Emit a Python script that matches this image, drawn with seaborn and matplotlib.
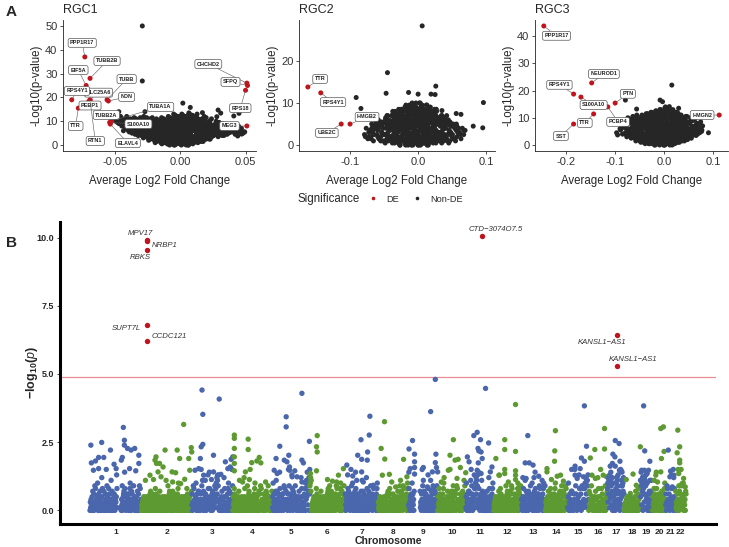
import matplotlib
matplotlib.use("Agg")
import numpy as np
import pandas as pd
import matplotlib.pyplot as plt
from matplotlib.lines import Line2D
import seaborn as sns

sns.set_theme(style="ticks")
plt.rcParams["font.family"] = ["Liberation Sans", "DejaVu Sans"]
plt.rcParams["mathtext.fontset"] = "custom"
plt.rcParams["mathtext.rm"] = "Liberation Sans"
plt.rcParams["mathtext.it"] = "Liberation Sans:italic"
plt.rcParams["mathtext.bf"] = "Liberation Sans:bold"

RED = "#c0141c"
DARK = "#262626"
BLUE = "#4a66ac"
GREEN = "#5e9a32"

# ---------------------------------------------------------------
# Panel A data (volcano plots)
# dense cloud: one string per fold-change bin, each char is one gene,
# its -log10(p) in half units written base 36
# ---------------------------------------------------------------
rgc1_bins = (-0.050, 0.005)
rgc1_cloud = [
    "kmio", "gkcmeioh", "dkbhmfjaelgn", "b9hmdjfa8kcgine", "9ejbmg6ock8hdfan7l",
    "7dk4hb9mf5jc8gn6elai", "5hc2k8fm3a6jd4gb9le7i", "3g9n1dk5b7hm2fa8jc4e6li",
    "6c1jo3f9l0hb5md2ka7g4ei8n", "2h7c0mp4a9f1kd6jo3b8ln5ge", "9d3k0gq5ap1h7m2eb6ok4jc8nf",
    "4a1m8f0jr6cq2hb9o3ld5gp7ke", "7e2kc5ho3ja9nq4fm6bl8dg", "8ci3g5mb7ek4ho9fa6jn",
    "a6ge9jc5kb8hm7fd", "c8hae9kbgd7fj", "d9gbiae8hcf", "c9fadhbge", "bf9dag", "ceab",
]
rgc1_core = [
    "mk", "hjfl", "cgielf", "adfhjlbe", "8acegikm9b", "6adgjl8bfhk7", "4bei9dgk5cfh6j",
    "2cfjm4ehk7bdg3i", "1dgk3fjn5hb8cm2e", "0aek2gm5ci8fo3jb1", "1cgm3ip6ek9ao4hb0l",
    "2egp0ik5cn8bj3mf1h", "3fjn5ch8ma2ek6g", "4gk7ci3em9fb5", "6ai8ek5cg9b", "8dh9fbjce",
    "9eg8bhdc", "adfbc", "cae", "db",
]
rgc1_other_fc = [-0.029, -0.029, -0.051, -0.047, -0.045, 0.0077, 0.029, 0.045, 0.044, 0.028,
                 0.002, 0.017, 0.031, -0.027, -0.005, 0.041, 0.047, 0.044, -0.048, -0.052]
rgc1_other_p = [50, 26.9, 12, 14, 11, 15.8, 14.7, 13.3, 3.8, 11.9,
                17.6, 13.6, 13.4, 14, 13, 12.2, 4.6, 8, 9.5, 10.5]
rgc1_genes = ["PPP1R17", "TUBB2B", "EIF5A", "SLC25A6", "RPS4Y1", "TUBB", "NDN", "PEBP1", "TTR",
              "TUBB2A", "RTN1", "TUBA1A", "S100A10", "ELAVL4", "CHCHD2", "SFPQ", "RPS18", "MEG3"]
rgc1_de_fc = [-0.073, -0.069, -0.072, -0.069, -0.083, -0.056, -0.055, -0.070, -0.078,
              -0.053, -0.069, -0.0525, -0.054, -0.0535, 0.051, 0.0515, 0.050, 0.051]
rgc1_de_p = [37, 28, 25, 19, 19, 19, 18.5, 18.3, 15.5, 9.7, 18.8, 10.2, 9.5, 8.8, 26, 25, 23, 8]

rgc2_bins = (-0.08, 0.01)
rgc2_cloud = [
    "5837", "4a6298b5", "7c39a4b6285", "5b1d8a3e62c97b4", "4e9b1g7c3f6a2d859b4e",
    "6c1h9e3a0g7d4b2f58c3g7a9", "3i8d0j5b1g7e2ha6c94fd2b8i5", "9f2k6c0h4a1j8e3b7gd5ic2e9h5a0",
    "5h0d9k3b7f1i4c8a2je6gd1a7h3f9", "7b2g9e4j0c6h3a1f8d5ib4g8e2", "3d8a1f6c9h4b2e7g5a6d3c",
    "6a2d9c4e1b7385a5c9", "8c3a5b17296a4", "5a3927468", "63857",
]
rgc2_core = [
    "46", "3759a", "48b26a5", "2c5e8a4b", "3a8e5c1g6d2b", "2f7b0d4h9e3a6c", "1e6i3b8g0d5j2h4c",
    "0h5c9j2e7a4k1g6d3", "2g7a4k0d8i3f6b1h5c", "1f6j3c8b0h5e2i7d4", "2c7g4a9e1h5d3b",
    "3c6a9e4b2d8", "4a2c6b59", "38a6", "57",
]
rgc2_other_fc = [0.006, -0.045, -0.047, -0.091, -0.084, 0.026, -0.014, 0.0, 0.019, 0.025, 0.096,
                 0.095, 0.081, 0.063, 0.056, 0.042, 0.035, -0.068, -0.072, 0.057, 0.048]
rgc2_other_p = [28.3, 17.2, 12.3, 11.3, 8.7, 14, 12.5, 12.1, 12.1, 12.0, 10.1,
                4.1, 4.5, 7.3, 7.5, 7.0, 8.2, 4.0, 2.0, 4.5, 4.8]
rgc2_genes = ["TTR", "RPS4Y1", "HMGB2", "UBE2C"]
rgc2_de_fc = [-0.162, -0.143, -0.100, -0.113]
rgc2_de_p = [13.8, 12.4, 5.0, 5.0]

rgc3_bins = (-0.09, 0.01)
rgc3_cloud = [
    "bf8dg", "8ec6ik9gb", "7hb5jd9lf6ca", "6bi3f9md5ja7hk4", "4g9c2kf6ma3h8ej5l",
    "5d1j8gn3bl6e2ia9hk", "3h9c1mo6f2ka7e4jb8ng", "7c2j0gp5ab9m3ek1hd8nl4",
    "4e0k9bq6h2ma7f1oc5jd3lg", "8b3m0hs5ep2ja9g1qd6kr4c", "2g6d0nq9a4kh1e7mc3jo5b",
    "5a9e1kh3oc7m2g6jb4nd", "6c2i9fa4md7k3hb8g", "9e3jb6lh4d8ga5", "a6gc8k5ie7b", "d8ja7gcf", "c9hae",
]
rgc3_core = [
    "ce", "9dh7j", "8cg6ie", "5ag8kd4i", "3ei7bl5g2k", "2fk6ci4n9d1h", "1gm4do8jb3l6",
    "0hn3dp6bk9f2m5", "1eq5io2bm8g4k0j", "0ir4fm9cq2hk6d3o", "2fo7dk3ai0nq6c", "1gm4cj8eo2b6",
    "3hk7dl5b9f", "5fj8cl4h", "6gk9ci", "9ef8", "cb",
]
rgc3_other_fc = [0.016, -0.079, -0.056, -0.008, -0.003, 0.011, -0.097, -0.095, 0.07, 0.091,
                 0.067, 0.074, -0.09, 0.03]
rgc3_other_p = [22, 16.5, 13.2, 16.5, 15.9, 14.1, 4.5, 3.7, 4.5, 4.5, 11, 7.8, 6, 13.5]
rgc3_genes = ["PPP1R17", "NEUROD1", "RPS4Y1", "S100A10", "PTN", "PCBP4", "TTR", "SST", "HMGN2"]
rgc3_de_fc = [-0.246, -0.148, -0.185, -0.170, -0.100, -0.115, -0.144, -0.185, 0.113]
rgc3_de_p = [43.7, 22.8, 18.7, 17.6, 15.4, 14.0, 11.4, 7.7, 11.0]

# ---------------------------------------------------------------
# Panel B data (Manhattan plot)
# ---------------------------------------------------------------
chrom_names = [str(i) for i in range(1, 23)]
chrom_len = [249.25, 243.20, 198.02, 191.15, 180.92, 171.12, 159.14, 146.36, 141.21, 135.53, 135.01,
             133.85, 115.17, 107.35, 102.53, 90.35, 81.20, 78.08, 59.13, 63.03, 48.13, 51.30]
# bulk of genes along each chromosome, -log10(p) in tenths (base 36), '.' = no genes
bulk_logp = [
    "0314205170260391814215a03624074201c581307132064f2905238160433b107426056204135d81"
    "........."
    "10429035672e813052465130628a04072614391503142051702603918142",
    "0213041520310245013214052306172031604251052381604303142051700213041520310245013210429035671405"
    "2306172031604251513062 8a040213041520310245013205238160431405230617".replace(" ", ""),
    "260391814215a036240771320 64f293b107426056204135d812e81305246072614391 58a3c6b19d403142051704201c581305130628a047132064f29".replace(" ", ""),
    "0523816043031420517002130415204201c58130104290356731024501325130628a04140523061726039181422031604251072614391503142051 70".replace(" ", ""),
    "15a03624073b107426052e813052462603918142713206 4f296204135d8107261439150314205170420 1c58130513 0628a04b5e92a7c06".replace(" ", ""),
    "9ac7b0213041520052381604303142051703102450132140523061710429035672031604251260391814251306 28a0407261439150".replace(" ", ""),
    "6204135d817132064f2915a03624072e813052460314205170 3b107426054201c5813007261439152603918142513062 8a04".replace(" ", ""),
    "310245013202130415201405230617052381604320316042510314205170104290356726039181425130628a04",
    "2e8130524615a03624 07...................7132064f293b107426056204135d810314205170260391814207261 43915".replace(" ", ""),
    "05238160435130628a040314205170140523061710429035672603918142203160425107261439 15".replace(" ", ""),
    "15a03624077132064f296204135d818a3c6b19d42e813052463b107426050314205170420 1c58130513 0628a04".replace(" ", ""),
    "02130415200314205170052381604331024501321042903567140523061726039181422031604251513062 8a0407261439 15".replace(" ", ""),
    "4201c581303b1074260507261439 1515a036240 72e813052462603918142513062 8a0439".replace(" ", ""),
    "031420517005238160435130628a0414052306171042903567260391814 2".replace(" ", ""),
    "15a03624077132064f296204135d81260391814 28a3c6b19d4".replace(" ", ""),
    "07261439 1503142051704201c5813005238160431042903567".replace(" ", ""),
    "8a3c6b19d4b5e92a7c0615a03624078a3c6b19d47132064f29b5e92a7c06",
    "0213041520310245013203142051702031604251",
    "b5e92a7c068a3c6b19d415a03624073b10742605",
    "05238160432e81305246031420517051306 28a04".replace(" ", ""),
    "26039181426204135d814201c58130",
    "7132064f290726143915 15a03624076".replace(" ", ""),
]
# individually visible genes above the bulk: relative position along chromosome, -log10(p)
tail_pos = [
    [0.02, 0.23, 0.40, 0.17, 0.27, 0.03, 0.11, 0.47, 0.65, 0.67, 0.67, 0.73, 0.80, 0.87, 0.95, 0.63, 0.61, 0.51, 0.77, 0.89, 0.95, 0.17, 0.07],
    [0.29, 0.27, 0.30, 0.36, 0.47, 0.43, 0.71, 0.76, 0.84, 0.61, 0.68, 0.86, 0.99, 1.00, 0.96, 0.94, 0.17, 0.24, 0.39, 0.49, 0.62, 0.78, 0.08, 0.33],
    [0.25, 0.27, 0.67, 0.27, 0.23, 0.21, 0.53, 0.82, 0.96, 1.00, 0.88, 0.94, 0.53, 0.63, 0.71, 0.48, 0.08, 0.17, 0.29, 0.33],
    [0.04, 0.04, 0.04, 0.04, 0.04, 0.04, 0.39, 0.39, 0.48, 0.61, 0.67, 0.71, 0.32, 0.44, 0.42, 0.25, 0.17, 0.83],
    [0.20, 0.37, 0.37, 0.79, 0.44, 0.39, 0.46, 0.46, 0.32, 0.60, 0.53, 0.66, 0.79, 0.83, 0.79, 1.00, 0.10, 0.05, 0.13, 0.99],
    [0.21, 0.19, 0.21, 0.19, 0.02, 0.50, 0.64, 0.81, 0.95, 0.52, 0.76],
    [0.05, 0.23, 0.38, 0.48, 0.50, 0.68, 0.67, 0.73, 0.75, 0.50, 0.55, 0.85, 0.35],
    [0.10, 0.21, 0.22, 0.14, 0.37, 0.45, 0.74, 0.84, 0.95, 0.58],
    [0.02, 0.14, 0.21, 0.21, 0.21, 0.06, 0.21, 0.51, 0.76, 0.92, 0.94, 0.92, 0.96, 1.00, 0.82, 0.76, 0.65],
    [0.56, 0.44, 0.62, 0.73, 0.81, 0.38, 0.44, 0.23, 0.13, 1.00, 0.94, 0.69],
    [0.06, 0.12, 0.29, 0.41, 0.53, 0.44, 0.47, 0.55, 0.59, 0.45, 0.71, 0.82, 0.94, 0.88, 0.41, 0.55, 0.18],
    [0.08, 0.19, 0.40, 0.40, 0.40, 0.40, 0.79, 0.79, 0.79, 0.79, 0.79, 0.21, 0.53, 0.90],
    [0.27, 0.16, 0.33, 0.49, 0.20, 0.53, 0.73, 0.87, 0.93],
    [0.46, 0.43, 0.42, 0.08, 0.08, 0.28, 0.54, 0.69, 0.82],
    [0.80, 0.90, 0.66, 0.80, 0.36, 0.20, 0.36, 0.60, 0.76, 0.94, 0.46],
    [0.85, 0.33, 0.85, 0.09, 0.64, 0.78, 0.36, 0.18, 0.96],
    [0.47, 0.70, 0.33, 0.45, 0.75, 0.30, 0.17, 0.47, 0.72, 0.83, 0.92, 0.17, 0.58],
    [0.55, 0.13, 0.75, 0.38, 0.88, 1.00],
    [0.27, 0.36, 0.78, 0.11, 0.33, 0.67, 0.56, 0.22, 0.89],
    [0.63, 0.83, 0.88, 0.68, 0.63, 0.25, 0.38, 0.13],
    [0.27, 0.50, 0.77, 0.83, 0.43, 0.67],
    [0.21, 0.39, 0.15, 0.39, 0.39, 0.52, 0.30, 0.61, 0.76, 0.91],
]
tail_logp = [
    [2.39, 2.49, 2.21, 1.94, 1.94, 1.74, 1.81, 1.69, 3.04, 2.57, 2.39, 2.27, 2.21, 2.27, 2.02, 1.94, 1.84, 1.53, 1.53, 1.45, 1.72, 1.53, 1.47],
    [1.96, 1.84, 1.72, 1.72, 2.21, 1.59, 2.21, 1.90, 3.15, 1.41, 1.38, 1.14, 2.30, 2.14, 1.47, 1.90, 1.29, 1.13, 1.23, 1.10, 1.04, 0.98, 1.10, 1.41],
    [4.41, 3.52, 4.08, 2.42, 2.33, 1.90, 2.02, 1.78, 1.87, 1.96, 1.53, 1.59, 1.41, 1.29, 1.32, 1.13, 1.47, 1.53, 1.29, 1.10],
    [2.76, 2.64, 2.27, 1.96, 1.72, 1.45, 2.61, 2.23, 1.75, 1.81, 1.94, 1.74, 1.41, 1.50, 1.13, 1.04, 1.10, 1.04],
    [2.35, 3.43, 3.06, 4.29, 2.02, 1.78, 1.59, 1.47, 1.84, 1.45, 1.23, 1.23, 1.84, 1.74, 1.04, 1.50, 1.90, 1.47, 1.35, 2.53],
    [2.74, 2.33, 2.14, 1.45, 1.35, 1.13, 1.07, 1.29, 1.53, 0.80, 1.04],
    [1.66, 1.26, 2.02, 2.59, 1.87, 2.14, 1.84, 2.76, 3.45, 1.41, 1.04, 0.92, 1.10],
    [2.27, 3.25, 1.88, 1.29, 1.32, 1.04, 1.10, 1.87, 1.23, 0.86],
    [2.25, 2.56, 2.06, 1.78, 1.57, 1.53, 1.33, 1.57, 3.62, 4.80, 2.06, 1.75, 1.57, 1.41, 1.41, 1.10, 0.86],
    [2.59, 2.02, 1.84, 1.87, 1.57, 1.47, 1.50, 1.20, 1.04, 1.38, 1.10, 1.17],
    [1.96, 1.78, 2.74, 2.86, 2.59, 2.27, 2.18, 2.14, 1.90, 1.74, 4.47, 2.47, 1.59, 1.41, 1.47, 1.35, 1.10],
    [1.90, 1.29, 2.59, 2.23, 1.50, 1.35, 3.88, 2.16, 1.45, 1.29, 1.13, 1.29, 1.04, 0.83],
    [2.74, 1.74, 1.74, 1.66, 1.17, 1.20, 1.25, 1.10, 0.88],
    [2.92, 2.18, 1.80, 1.53, 1.41, 1.13, 1.25, 1.29, 1.07],
    [3.83, 2.35, 1.92, 1.80, 1.62, 1.50, 1.29, 1.53, 1.23, 1.10, 1.17],
    [3.00, 2.23, 2.25, 1.92, 1.50, 1.29, 1.17, 1.29, 1.23],
    [2.56, 2.45, 2.06, 1.96, 1.80, 1.72, 1.62, 1.62, 1.47, 1.45, 1.10, 1.10, 1.23],
    [1.33, 1.13, 0.92, 0.62, 0.80, 2.33],
    [3.83, 2.18, 1.80, 1.47, 1.47, 1.47, 1.35, 1.23, 1.10],
    [3.00, 3.06, 2.16, 1.90, 1.41, 1.29, 1.04, 1.10],
    [2.21, 1.44, 1.50, 1.29, 1.23, 0.86],
    [2.94, 2.33, 2.11, 1.84, 1.74, 1.50, 1.35, 0.98, 1.17, 0.86],
]
hit_genes = ["MPV17", "NRBP1", "RBKS", "SUPT7L", "CCDC121", "CTD\u22123074O7.5", "KANSL1\u2212AS1", "KANSL1\u2212AS1"]
hit_chrom = [2, 2, 2, 2, 2, 11, 17, 17]
hit_pos = [0.11, 0.11, 0.11, 0.11, 0.11, 0.57, 0.55, 0.55]
hit_logp = [9.92, 9.88, 9.55, 6.78, 6.19, 10.07, 6.41, 5.29]
threshold = 4.88


def decode_cloud(strings, start, width, step=0.5):
    xs, ys = [], []
    for i, s in enumerate(strings):
        for j, c in enumerate(s):
            if c == ".":
                continue
            xs.append(start + width * (i + (j + 0.5) / len(s)))
            ys.append(int(c, 36) * step)
    return xs, ys


def draw_volcano(ax, title, bins, clouds, other_fc, other_p, genes, de_fc, de_p,
                 label_xy, xlim, ylim, xticks, yticks, fmt):
    cx, cy = [], []
    for cl in clouds:
        a, b = decode_cloud(cl, bins[0], bins[1])
        cx += a
        cy += b
    df = pd.DataFrame({
        "fc": cx + other_fc + de_fc,
        "logp": cy + other_p + de_p,
        "sig": ["Non-DE"] * (len(cx) + len(other_fc)) + ["DE"] * len(de_fc),
    })
    sns.scatterplot(data=df, x="fc", y="logp", hue="sig", palette={"DE": RED, "Non-DE": DARK},
                    s=13, linewidth=0, legend=False, ax=ax, zorder=2)
    for g, x, y, (lx, ly) in zip(genes, de_fc, de_p, label_xy):
        ax.annotate(g, xy=(x, y), xytext=(lx, ly), fontsize=4, fontweight="bold",
                    ha="center", va="center", color="#222222", zorder=5,
                    bbox=dict(boxstyle="round,pad=0.35", fc="white", ec="#555555", lw=0.5),
                    arrowprops=dict(arrowstyle="-", color="#555555", lw=0.4,
                                    shrinkA=0, shrinkB=1.5))
    ax.set_xlim(*xlim)
    ax.set_ylim(*ylim)
    ax.set_xticks(xticks)
    ax.set_xticklabels([fmt % t for t in xticks])
    ax.set_yticks(yticks)
    ax.set_yticklabels([str(t) for t in yticks])
    ax.set_title(title, loc="left", fontsize=9, pad=5)
    ax.set_xlabel("Average Log2 Fold Change", fontsize=8.3, labelpad=6)
    ax.set_ylabel("-Log10(p-value)", fontsize=8.3, labelpad=1.5)
    ax.tick_params(labelsize=8, length=2.5, width=0.6, pad=1.5, colors="#333333")
    for side in ["left", "bottom"]:
        ax.spines[side].set_linewidth(0.6)
        ax.spines[side].set_color("#222222")
    sns.despine(ax=ax)


fig = plt.figure(figsize=(7.29, 5.47), dpi=100)
W, H = 729.0, 547.0


def px_axes(left, right, top, bottom):
    return fig.add_axes([left / W, 1 - bottom / H, (right - left) / W, (bottom - top) / H])


ax1 = px_axes(63, 256, 20, 151)
ax2 = px_axes(299, 495, 20, 151)
ax3 = px_axes(535, 728, 20, 151)

draw_volcano(ax1, "RGC1", rgc1_bins, [rgc1_cloud, rgc1_core], rgc1_other_fc, rgc1_other_p,
             rgc1_genes, rgc1_de_fc, rgc1_de_p,
             [(-0.075, 42.9), (-0.056, 35.3), (-0.078, 31.5), (-0.0625, 22.0), (-0.079, 22.7),
              (-0.041, 27.7), (-0.041, 20.2), (-0.069, 16.6), (-0.080, 8.0), (-0.0565, 12.6),
              (-0.065, 1.7), (-0.015, 16.0), (-0.032, 8.8), (-0.040, 0.8), (0.0215, 34.0),
              (0.0385, 26.5), (0.046, 15.5), (0.0377, 8.0)],
             (-0.0897, 0.058), (-2.5, 52.5), [-0.05, 0.0, 0.05], [0, 10, 20, 30, 40, 50], "%.2f")
draw_volcano(ax2, "RGC2", rgc2_bins, [rgc2_cloud, rgc2_core], rgc2_other_fc, rgc2_other_p,
             rgc2_genes, rgc2_de_fc, rgc2_de_p,
             [(-0.144, 15.7), (-0.125, 10.2), (-0.075, 6.7), (-0.134, 2.9)],
             (-0.175, 0.113), (-1.4, 29.7), [-0.1, 0.0, 0.1], [0, 10, 20], "%.1f")
draw_volcano(ax3, "RGC3", rgc3_bins, [rgc3_cloud, rgc3_core], rgc3_other_fc, rgc3_other_p,
             rgc3_genes, rgc3_de_fc, rgc3_de_p,
             [(-0.22, 40.1), (-0.123, 26.1), (-0.214, 22.1), (-0.144, 14.7), (-0.074, 18.8),
              (-0.094, 8.5), (-0.162, 8.1), (-0.211, 3.3), (0.078, 11.0)],
             (-0.264, 0.131), (-2.2, 45.9), [-0.2, -0.1, 0.0, 0.1], [0, 10, 20, 30, 40], "%.1f")

# legend for panel A
fig.text(298 / W, 1 - 199 / H, "Significance", fontsize=8.3, va="center", ha="left")
handles = [Line2D([], [], ls="", marker="o", markersize=2.6, color=RED, markeredgewidth=0),
           Line2D([], [], ls="", marker="o", markersize=2.6, color=DARK, markeredgewidth=0)]
fig.legend(handles, ["DE", "Non-DE"], loc="center left", bbox_to_anchor=(367 / W, 1 - 199 / H),
           ncol=2, frameon=False, fontsize=6.6, handlelength=1.4, handletextpad=0.7,
           columnspacing=1.3, borderpad=0, borderaxespad=0)

# ---------------------------------------------------------------
# Panel B: Manhattan
# ---------------------------------------------------------------
axb = px_axes(60, 716, 222, 524)
offsets = np.concatenate([[0.0], np.cumsum(chrom_len)[:-1]])
total = float(np.sum(chrom_len))

rows = []
for k, (name, length, off) in enumerate(zip(chrom_names, chrom_len, offsets)):
    band = "odd" if k % 2 == 0 else "even"
    s = bulk_logp[k]
    for j, c in enumerate(s):
        if c == ".":
            continue
        rows.append((off + length * (j + 0.5) / len(s), int(c, 36) * 0.1, band))
    for p, v in zip(tail_pos[k], tail_logp[k]):
        rows.append((off + length * p, v, band))
man = pd.DataFrame(rows, columns=["pos", "logp", "band"])

axb.axhline(threshold, color="#ea8f91", lw=0.9, zorder=1)
sns.scatterplot(data=man, x="pos", y="logp", hue="band", palette={"odd": BLUE, "even": GREEN},
                s=15, linewidth=0, legend=False, ax=axb, zorder=2)

hits = pd.DataFrame({
    "gene": hit_genes,
    "pos": [offsets[c - 1] + chrom_len[c - 1] * p for c, p in zip(hit_chrom, hit_pos)],
    "logp": hit_logp,
})
sns.scatterplot(data=hits, x="pos", y="logp", color=RED, s=15, linewidth=0, ax=axb, zorder=3)

# label offsets in points (layout)
hit_offsets = [((-5, 4.8), "center"), ((3.6, -3.6), "left"), ((-5, -5.8), "center"),
               ((-4.3, -2.4), "right"), ((3.6, 3.4), "left"), ((10, 4.3), "center"),
               ((-10.8, -5.3), "center"), ((11.5, 5.0), "center")]
for (_, r), ((dx, dy), ha) in zip(hits.iterrows(), hit_offsets):
    axb.annotate(r["gene"], xy=(r["pos"], r["logp"]), xytext=(dx, dy), textcoords="offset points",
                 fontsize=5.6, fontstyle="italic", ha=ha, va="center", color="#333333")

axb.set_xlim(-0.05 * total, 1.05 * total)
axb.set_ylim(-0.5, 10.57)
axb.set_xticks(offsets + np.array(chrom_len) / 2)
axb.set_xticklabels(chrom_names, fontsize=6, fontweight="bold")
axb.set_yticks([0, 2.5, 5, 7.5, 10])
axb.set_yticklabels(["0.0", "2.5", "5.0", "7.5", "10.0"], fontsize=6.5, fontweight="bold")
axb.tick_params(axis="x", length=0, pad=3.5)
axb.tick_params(axis="y", length=2, width=0.6, pad=2)
axb.set_xlabel("Chromosome", fontsize=7.6, fontweight="bold", labelpad=0)
axb.set_ylabel(r"$\mathbf{-log}_{\mathbf{10}}\mathbf{(}\mathit{p}\mathbf{)}$", fontsize=9)
axb.yaxis.set_label_coords(-0.03, 0.5)
sns.despine(ax=axb)
for side in ["left", "bottom"]:
    axb.spines[side].set_linewidth(2.2)
    axb.spines[side].set_color("black")

fig.text(6 / W, 1 - 12 / H, "A", fontsize=11, fontweight="bold", va="center")
fig.text(6 / W, 1 - 243 / H, "B", fontsize=11, fontweight="bold", va="center")

fig.savefig("out.png", dpi=100)
